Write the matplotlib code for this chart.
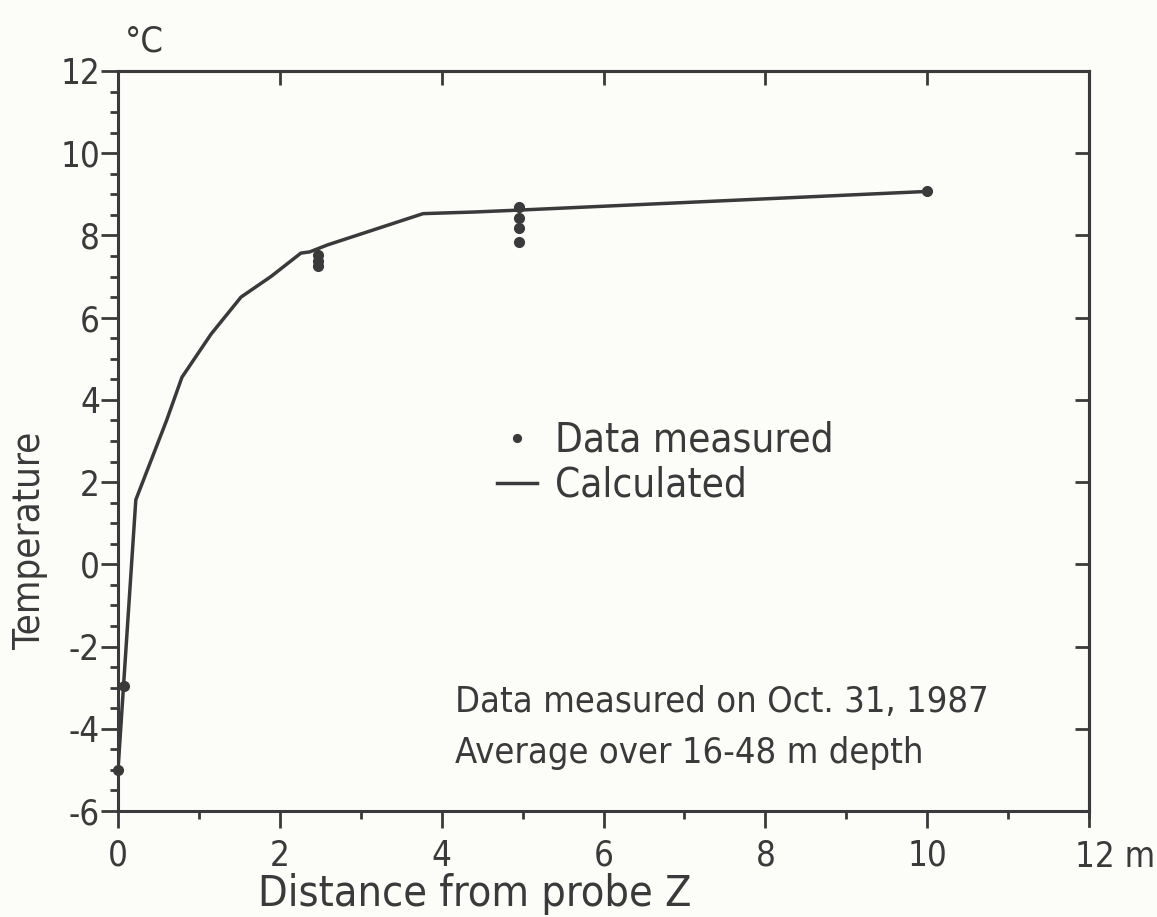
import matplotlib.pyplot as plt
from matplotlib.ticker import MultipleLocator

calc_x = [0.0, 0.07, 0.22, 0.6, 0.79, 1.15, 1.52, 1.89, 2.26, 2.37, 2.59, 3.77, 4.41, 5.0, 10.0]
calc_y = [-5.0, -2.9, 1.57, 3.5, 4.55, 5.6, 6.5, 7.0, 7.57, 7.6, 7.77, 8.53, 8.57, 8.62, 9.07]

meas_x = [0.0, 0.07, 2.47, 2.47, 2.47, 4.95, 4.95, 4.95, 4.95, 10.0]
meas_y = [-5.0, -2.95, 7.52, 7.38, 7.25, 8.7, 8.43, 8.18, 7.84, 9.07]

xticks = [0, 2, 4, 6, 8, 10]
xtick_labels = ['0', '2', '4', '6', '8', '10']
yticks = [-6, -4, -2, 0, 2, 4, 6, 8, 10, 12]
ytick_labels = ['-6', '-4', '-2', '0', '2', '4', '6', '8', '10', '12']

ink = '#3a3a3a'
paper = '#fcfcf8'
FONT = ['DejaVu Sans Condensed', 'Noto Sans Condensed', 'Liberation Sans Narrow',
        'DejaVu Sans']
plt.rcParams['font.family'] = FONT
plt.rcParams['font.stretch'] = 'condensed'
fs = 25

fig = plt.figure(figsize=(11.57, 9.17), dpi=100, facecolor=paper)
ax = fig.add_axes([0.102, 0.1156, 0.8393, 0.807], facecolor=paper)

ax.plot(calc_x, calc_y, color=ink, lw=2.5, label='Calculated', solid_joinstyle='round')
ax.plot(meas_x, meas_y, 'o', color=ink, ms=7, clip_on=False, zorder=5,
        label='Data measured')

ax.set_xlim(0, 12)
ax.set_ylim(-6, 12)

for s in ax.spines.values():
    s.set_linewidth(2.2)
    s.set_color(ink)

ax.set_xticks(xticks)
ax.set_xticklabels(xtick_labels)
ax.set_yticks(yticks)
ax.set_yticklabels(ytick_labels)
ax.xaxis.set_minor_locator(MultipleLocator(1))
ax.yaxis.set_minor_locator(MultipleLocator(0.5))
ax.tick_params(which='major', direction='out', length=12, width=2, color=ink,
               labelsize=fs, labelcolor=ink)
ax.tick_params(which='minor', direction='out', length=6, width=2, color=ink)
ax.tick_params(axis='y', which='major', pad=1)
ax.tick_params(axis='x', which='major', pad=8)

# "12 m" at the last x tick
ax.annotate('12 m', xy=(12, 0), xycoords=('data', 'axes fraction'),
            xytext=(-14, -29), textcoords='offset pixels', ha='left', va='top',
            fontsize=fs, color=ink)
ax.plot([12, 12], [0, -0.02], transform=ax.get_xaxis_transform(), color=ink,
        lw=2, clip_on=False)

# inward ticks on top and right
top = ax.secondary_xaxis('top')
top.set_xticks(xticks)
top.set_xticklabels([])
top.tick_params(direction='in', length=10, width=2, color=ink)
right = ax.secondary_yaxis('right')
right.set_yticks(yticks)
right.set_yticklabels([])
right.tick_params(direction='in', length=10, width=2, color=ink)
for sec in (top, right):
    for s in sec.spines.values():
        s.set_linewidth(2.2)
        s.set_color(ink)

fig.text(125 / 1157, 1 - 52 / 917, '°C', fontsize=26, color=ink, ha='left', va='baseline')
fig.text(30 / 1157, 1 - 540 / 917, 'Temperature', fontsize=27.5, color=ink,
         rotation=90, ha='center', va='center')
fig.text(475 / 1157, 1 - 906 / 917, 'Distance from probe Z', fontsize=31, color=ink,
         ha='center', va='baseline')

ax.text(0.347, 0.134, 'Data measured on Oct. 31, 1987', transform=ax.transAxes,
        fontsize=26, color=ink, va='baseline')
ax.text(0.347, 0.065, 'Average over 16-48 m depth', transform=ax.transAxes,
        fontsize=26, color=ink, va='baseline')

h, l = ax.get_legend_handles_labels()
leg = ax.legend(h[::-1], l[::-1], loc='center left', bbox_to_anchor=(0.39, 0.47),
                frameon=False, fontsize=29, handlelength=1.0, handletextpad=0.45,
                labelspacing=0.12, borderpad=0, borderaxespad=0, markerscale=0.8)
for t in leg.get_texts():
    t.set_color(ink)

fig.savefig('out.png', dpi=100, facecolor=paper)
